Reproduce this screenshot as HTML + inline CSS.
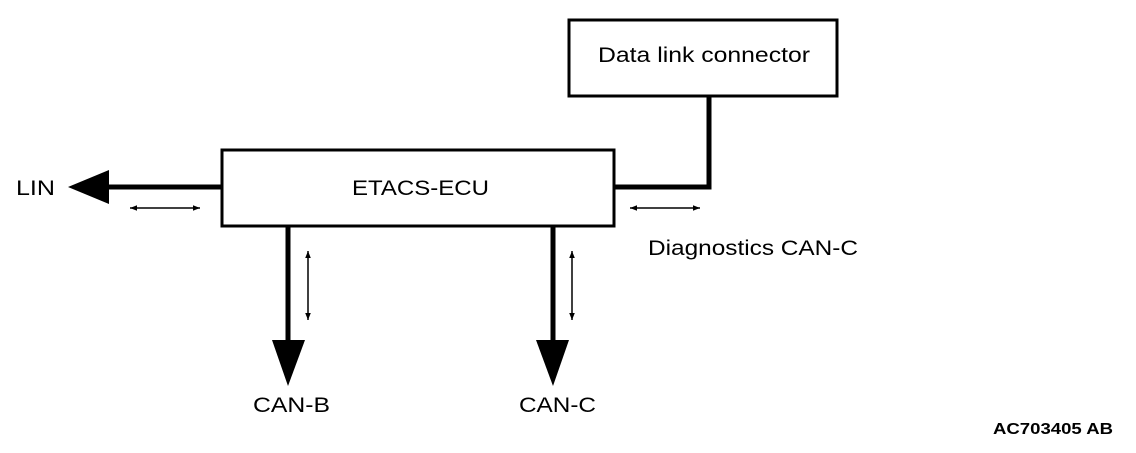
<!DOCTYPE html>
<html><head><style>
body{margin:0;background:#fff;}
svg text{font-family:"Liberation Sans",Arial,sans-serif;fill:#000;}
</style></head><body>
<svg width="1136" height="448" viewBox="0 0 1136 448" xmlns="http://www.w3.org/2000/svg">
<defs>
<marker id="a" viewBox="0 0 10 10" refX="10" refY="5" markerWidth="7" markerHeight="7" orient="auto-start-reverse" markerUnits="userSpaceOnUse"><path d="M0,1 L10,5 L0,9 Z" fill="#000"/></marker>
</defs>
<rect x="569" y="20" width="268" height="76" fill="none" stroke="#000" stroke-width="3"/>
<text x="598" y="62" font-size="21" textLength="212" lengthAdjust="spacingAndGlyphs">Data link connector</text>
<rect x="222" y="150" width="392" height="76" fill="none" stroke="#000" stroke-width="3"/>
<text x="352" y="195" font-size="21" textLength="137" lengthAdjust="spacingAndGlyphs">ETACS-ECU</text>
<polyline points="709,96 709,187 615,187" fill="none" stroke="#000" stroke-width="5"/>
<line x1="221" y1="187" x2="105" y2="187" stroke="#000" stroke-width="5"/>
<polygon points="68,187 109,170 109,204" fill="#000"/>
<text x="16" y="195" font-size="21" textLength="39" lengthAdjust="spacingAndGlyphs">LIN</text>
<line x1="130" y1="208" x2="200" y2="208" stroke="#000" stroke-width="1.5" marker-start="url(#a)" marker-end="url(#a)"/>
<line x1="630" y1="208" x2="700" y2="208" stroke="#000" stroke-width="1.5" marker-start="url(#a)" marker-end="url(#a)"/>
<line x1="288" y1="227" x2="288" y2="345" stroke="#000" stroke-width="5"/>
<polygon points="272,340 305,340 288,386" fill="#000"/>
<line x1="553" y1="227" x2="553" y2="345" stroke="#000" stroke-width="5"/>
<polygon points="536,340 569,340 553,386" fill="#000"/>
<line x1="308" y1="251" x2="308" y2="320" stroke="#000" stroke-width="1.5" marker-start="url(#a)" marker-end="url(#a)"/>
<line x1="572" y1="251" x2="572" y2="320" stroke="#000" stroke-width="1.5" marker-start="url(#a)" marker-end="url(#a)"/>
<text x="253" y="412" font-size="21" textLength="77" lengthAdjust="spacingAndGlyphs">CAN-B</text>
<text x="519" y="412" font-size="21" textLength="77" lengthAdjust="spacingAndGlyphs">CAN-C</text>
<text x="648" y="255" font-size="21" textLength="210" lengthAdjust="spacingAndGlyphs">Diagnostics CAN-C</text>
<text x="993" y="434" font-size="16" font-weight="bold" textLength="120" lengthAdjust="spacingAndGlyphs">AC703405 AB</text>
</svg>
</body></html>
